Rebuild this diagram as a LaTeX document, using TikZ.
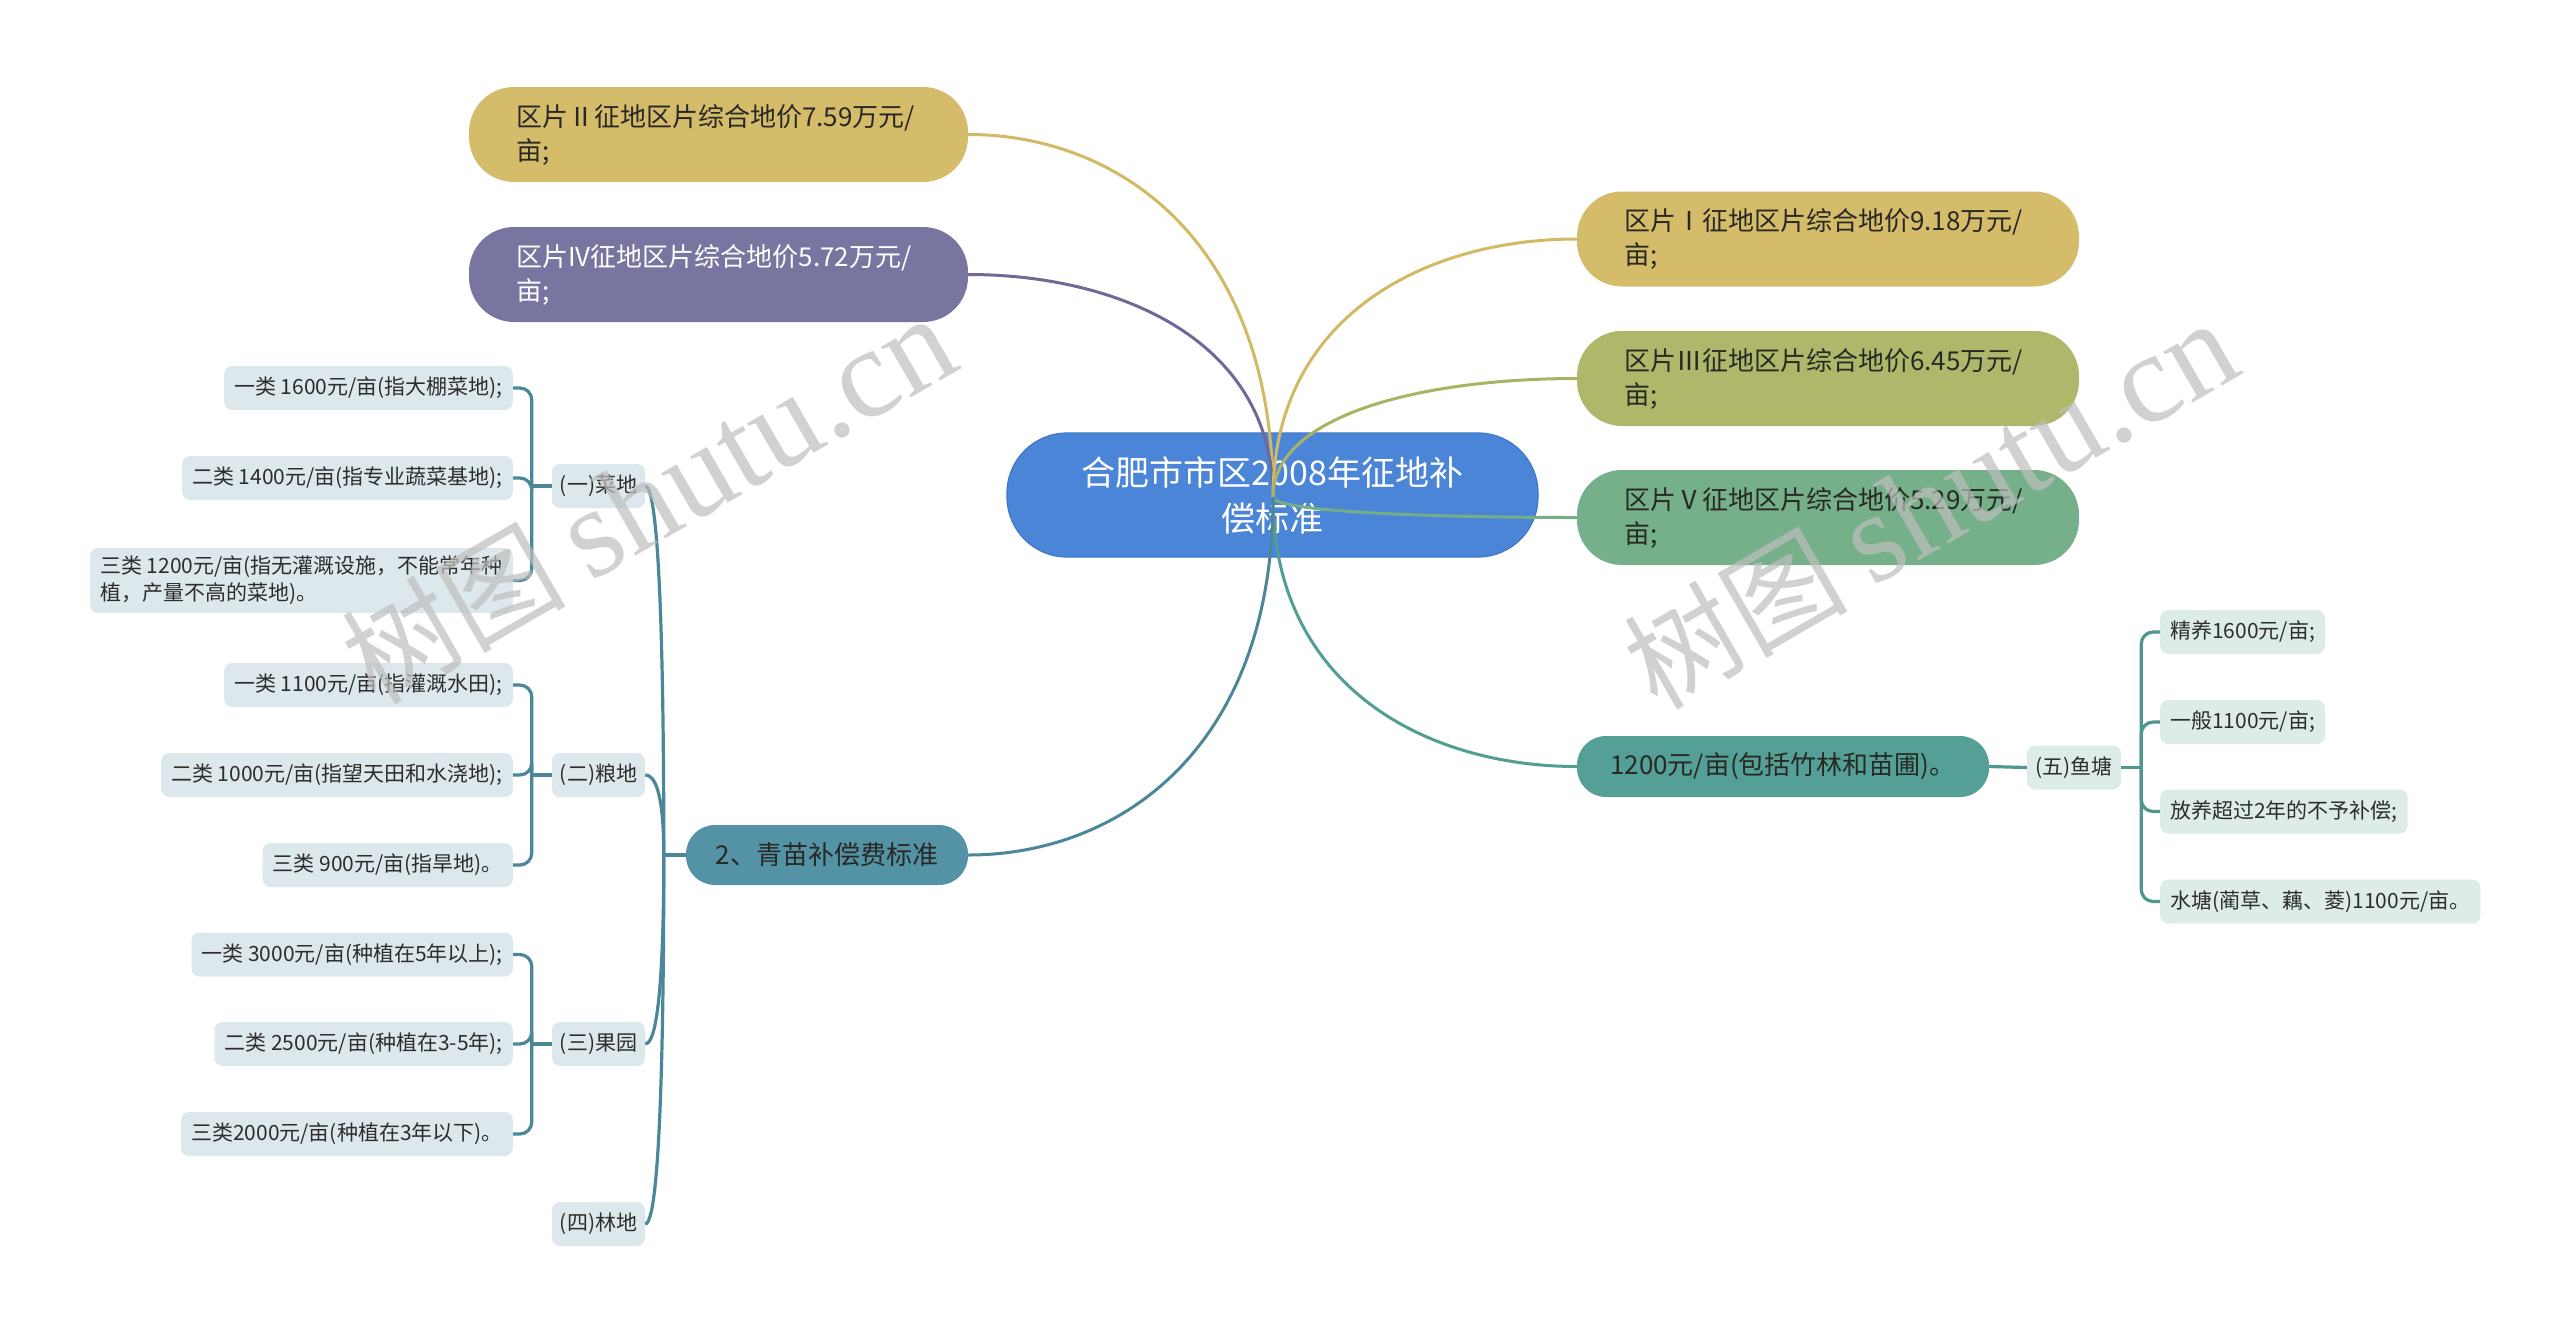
\documentclass[tikz,border=0pt]{standalone}
\usepackage{fontspec}
\setmainfont{Noto Sans CJK SC}
\newfontfamily\wmlatin{Liberation Serif}
\usetikzlibrary{calc}
\definecolor{cgold}{RGB}{213,188,106}
\definecolor{cpurple}{RGB}{120,117,160}
\definecolor{colive}{RGB}{175,184,106}
\definecolor{cgreen}{RGB}{118,176,138}
\definecolor{ccenter}{RGB}{74,133,216}
\definecolor{ccenterb}{RGB}{66,120,200}
\definecolor{cteal}{RGB}{84,160,150}
\definecolor{cblue}{RGB}{83,147,165}
\definecolor{lgold}{RGB}{210,185,100}
\definecolor{lpurple}{RGB}{110,106,152}
\definecolor{lolive}{RGB}{169,179,100}
\definecolor{lgreen}{RGB}{116,174,137}
\definecolor{lteal}{RGB}{82,158,146}
\definecolor{lblue}{RGB}{76,135,153}
\definecolor{lfish}{RGB}{79,151,140}
\definecolor{leafbg}{RGB}{221,232,236}
\definecolor{fishbg}{RGB}{221,236,233}
\definecolor{txtdark}{RGB}{40,40,36}
\definecolor{txtleaf}{RGB}{45,45,45}
\definecolor{wmgray}{RGB}{190,190,190}
\newcommand\mmlink[3]{\draw[mainline,#1] (#2) .. controls ($(#2)!0.7!(#2|-#3)$) and ($(#3)!0.5!(#2|-#3)$) .. (#3);}
\begin{document}
\begin{tikzpicture}[x=1pt,y=-1pt,
  lone/.style={rounded corners=45pt, minimum height=95pt, align=left, inner xsep=47pt, inner ysep=0pt, font=\fontsize{26}{34}\selectfont, text=txtdark},
  centernode/.style={fill=ccenter, draw=ccenterb, line width=1.2pt, rounded corners=60pt, minimum width=531pt, minimum height=124pt, align=center, font=\fontsize{34}{46}\selectfont, text=white},
  ltwo/.style={rounded corners=29pt, minimum height=61pt, inner ysep=0pt, font=\fontsize{26}{34}\selectfont, text=txtdark},
  leaf/.style={fill=leafbg, rounded corners=8pt, minimum height=44pt, inner xsep=10pt, inner ysep=5pt, align=left, font=\fontsize{21}{27}\selectfont, text=txtleaf},
  fishleaf/.style={leaf, fill=fishbg},
  mainline/.style={line width=3pt},
  treeline/.style={line width=3.2pt, draw=lblue},
  fishline/.style={line width=3.2pt, draw=lfish},
  wm/.style={rotate=30, text=wmgray, opacity=0.7}
]
\useasboundingbox (0,0) rectangle (2560,1334);
\fill[white] (0,0) rectangle (2560,1334);

% center
\node[centernode] (root) at (1272.5,495) {合肥市市区2008年征地补\\偿标准};
\coordinate (S) at (1273,497);

% level one
\node[lone, fill=cgold, text width=405pt] (A) at (718.5,134.5) {区片Ⅱ征地区片综合地价7.59万元/\\亩;};
\node[lone, fill=cpurple, text width=405pt, text=white] (B) at (718.5,274.5) {区片IV征地区片综合地价5.72万元/\\亩;};
\node[lone, fill=cgold, text width=408pt] (C) at (1828,239) {区片Ⅰ征地区片综合地价9.18万元/\\亩;};
\node[lone, fill=colive, text width=408pt] (D) at (1828,378.5) {区片Ⅲ征地区片综合地价6.45万元/\\亩;};
\node[lone, fill=cgreen, text width=408pt] (E) at (1828,517.5) {区片Ⅴ征地区片综合地价5.29万元/\\亩;};
\node[ltwo, fill=cteal, minimum width=412pt] (F) at (1783,766.5) {1200元/亩(包括竹林和苗圃)。};
\node[ltwo, fill=cblue, minimum width=282pt, minimum height=60pt] (G) at (827,855) {2、青苗补偿费标准};

% fish branch
\node[fishleaf, minimum width=94pt, inner xsep=6pt] (fish) at (2074,767.5) {(五)鱼塘};
\node[fishleaf, anchor=west] (f1) at (2160,632) {精养1600元/亩;};
\node[fishleaf, anchor=west] (f2) at (2160,722) {一般1100元/亩;};
\node[fishleaf, anchor=west] (f3) at (2160,811.5) {放养超过2年的不予补偿;};
\node[fishleaf, anchor=west] (f4) at (2160,901.5) {水塘(蔺草、藕、菱)1100元/亩。};

% left sub nodes
\node[leaf, minimum width=93pt, inner xsep=6pt] (s1) at (598.5,486) {(一)菜地};
\node[leaf, minimum width=93pt, inner xsep=6pt] (s2) at (598.5,775) {(二)粮地};
\node[leaf, minimum width=93pt, inner xsep=6pt] (s3) at (598.5,1044) {(三)果园};
\node[leaf, minimum width=93pt, inner xsep=6pt] (s4) at (598.5,1224) {(四)林地};

% left leaves
\node[leaf, anchor=east] (a1) at (513,388) {一类 1600元/亩(指大棚菜地);};
\node[leaf, anchor=east] (a2) at (513,478) {二类 1400元/亩(指专业蔬菜基地);};
\node[leaf, anchor=east, inner ysep=8pt] (a3) at (513,580.5) {三类 1200元/亩(指无灌溉设施，不能常年种\\植，产量不高的菜地)。};
\node[leaf, anchor=east] (b1) at (513,685) {一类 1100元/亩(指灌溉水田);};
\node[leaf, anchor=east] (b2) at (513,775) {二类 1000元/亩(指望天田和水浇地);};
\node[leaf, anchor=east] (b3) at (513,865) {三类 900元/亩(指旱地)。};
\node[leaf, anchor=east] (c1) at (513,954.5) {一类 3000元/亩(种植在5年以上);};
\node[leaf, anchor=east] (c2) at (513,1044) {二类 2500元/亩(种植在3-5年);};
\node[leaf, anchor=east] (c3) at (513,1134) {三类2000元/亩(种植在3年以下)。};

% main curves
\mmlink{lgold}{S}{A.east}
\mmlink{lpurple}{S}{B.east}
\mmlink{lgold}{S}{C.west}
\mmlink{lolive}{S}{D.west}
\mmlink{lgreen}{S}{E.west}
\mmlink{lteal}{S}{F.west}
\mmlink{lblue}{S}{G.east}

% F to fish
\draw[fishline] (F.east) -- (fish.west);
\coordinate (bf) at ($(fish.east)+(20,0)$);
\draw[fishline] (fish.east) -- (bf);
\foreach \n in {f1,f2,f3,f4} {\draw[fishline, rounded corners=12pt] (bf) |- (\n.west);}

% left tree
\coordinate (gj) at ($(G.west)+(-22,0)$);
\coordinate (trunk) at (660,0);
\draw[treeline] (G.west) -- (gj);
\foreach \n in {s1,s2,s3,s4} {\draw[treeline] (gj) .. controls ($(gj)!0.5!(gj|-\n.east)$) and (trunk|-\n.east) .. (\n.east);}

\coordinate (bs1) at ($(s1.west)+(-20,0)$);
\coordinate (bs2) at ($(s2.west)+(-20,0)$);
\coordinate (bs3) at ($(s3.west)+(-20,0)$);
\draw[treeline] (s1.west) -- (bs1);
\draw[treeline] (s2.west) -- (bs2);
\draw[treeline] (s3.west) -- (bs3);
\foreach \n in {a1,a2,a3} {\draw[treeline, rounded corners=12pt] (bs1) |- (\n.east);}
\foreach \n in {b1,b2,b3} {\draw[treeline, rounded corners=12pt] (bs2) |- (\n.east);}
\foreach \n in {c1,c2,c3} {\draw[treeline, rounded corners=12pt] (bs3) |- (\n.east);}

% watermark
\node[wm] (wm1) at (648,500) {\fontsize{112}{120}\selectfont 树图 {\wmlatin\fontsize{128}{130}\selectfont shutu.cn}};
\node[wm] (wm2) at (1930,505) {\fontsize{112}{120}\selectfont 树图 {\wmlatin\fontsize{128}{130}\selectfont shutu.cn}};
\end{tikzpicture}
\end{document}
